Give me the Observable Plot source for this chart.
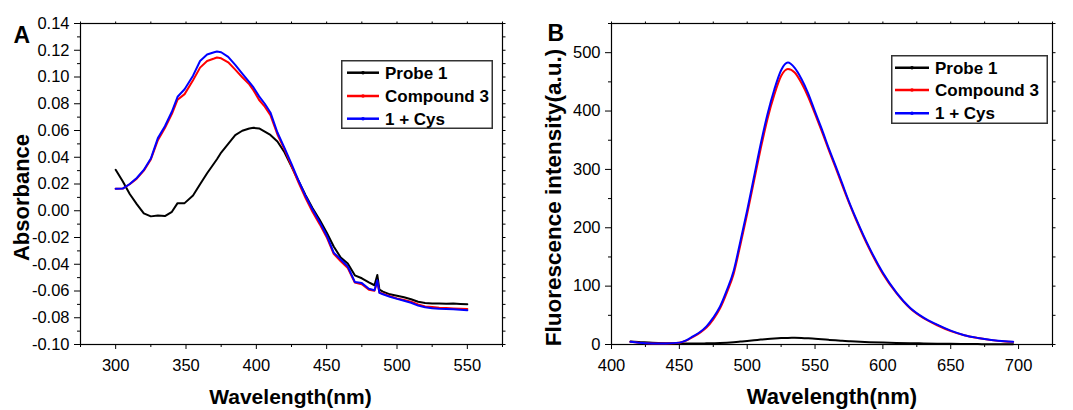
<!DOCTYPE html>
<html><head><meta charset="utf-8">
<script src="https://cdn.jsdelivr.net/npm/d3@7"></script>
<script src="https://cdn.jsdelivr.net/npm/@observablehq/plot@0.6"></script>
<style>
body{margin:0;background:#fff;}
#wrap{position:relative;width:1073px;height:410px;overflow:hidden;font-family:"Liberation Sans",Arial,sans-serif;background:#fff;}
.panel{position:absolute;top:0;}
.legend{position:absolute;}
</style></head><body><div id="wrap"></div>
<script>
// ---------- Series names / colours ----------
const seriesNames = ["Probe 1", "Compound 3", "1 + Cys"];
const seriesColors = ["#000000", "#ff0000", "#0000ff"];

// ---------- Panel A: absorbance ----------
const absWavelength = [300,305,310,315,320,325,330,335,340,344,349,355,360,365,370,372,375,380,385,390,395,398,402,406,410,415,420,425,430,435,440,445,450,455,460,465,470,475,480,484,486,487.5,490,495,500,505,510,515,520,525,530,535,540,545,550];
const absProbe1 = [0.0306,0.0220,0.0125,0.0050,-0.0020,-0.0042,-0.0035,-0.0040,-0.0008,0.0057,0.0057,0.0114,0.0198,0.0280,0.0355,0.0385,0.0435,0.0500,0.0565,0.0598,0.0615,0.0620,0.0615,0.0592,0.0567,0.0518,0.0437,0.0330,0.0222,0.0117,0.0019,-0.0068,-0.0163,-0.0267,-0.0350,-0.0394,-0.0483,-0.0505,-0.0535,-0.0557,-0.0480,-0.0590,-0.0605,-0.0625,-0.0635,-0.0647,-0.0662,-0.0680,-0.0690,-0.0694,-0.0693,-0.0695,-0.0694,-0.0697,-0.0699];
const absCompound3 = [0.0164,0.0166,0.0198,0.0240,0.0300,0.0383,0.0528,0.0618,0.0725,0.0830,0.0872,0.0975,0.1070,0.1120,0.1138,0.1146,0.1140,0.1110,0.1055,0.0998,0.0945,0.0900,0.0828,0.0778,0.0715,0.0570,0.0460,0.0335,0.0210,0.0095,-0.0010,-0.0100,-0.0198,-0.0322,-0.0378,-0.0428,-0.0536,-0.0550,-0.0590,-0.0598,-0.0530,-0.0612,-0.0620,-0.0638,-0.0655,-0.0668,-0.0680,-0.0700,-0.0715,-0.0720,-0.0725,-0.0728,-0.0730,-0.0732,-0.0735];
const absCys = [0.0164,0.0166,0.0200,0.0245,0.0305,0.0390,0.0543,0.0632,0.0742,0.0852,0.0908,0.1010,0.1120,0.1168,0.1185,0.1191,0.1185,0.1150,0.1090,0.1025,0.0962,0.0922,0.0855,0.0800,0.0735,0.0585,0.0470,0.0350,0.0226,0.0110,0.0008,-0.0085,-0.0185,-0.0313,-0.0365,-0.0417,-0.0532,-0.0541,-0.0583,-0.0594,-0.0520,-0.0614,-0.0624,-0.0643,-0.0659,-0.0673,-0.0688,-0.0709,-0.0722,-0.0729,-0.0733,-0.0734,-0.0737,-0.0740,-0.0744];
const absXTicks = [300,350,400,450,500,550];
const absXMinorTicks = [275,325,375,425,475,525,575];
const absYTicks = [0.14,0.12,0.10,0.08,0.06,0.04,0.02,0.00,-0.02,-0.04,-0.06,-0.08,-0.10];
const absYMinorTicks = [0.13,0.11,0.09,0.07,0.05,0.03,0.01,-0.01,-0.03,-0.05,-0.07,-0.09];

// ---------- Panel B: fluorescence ----------
const flWavelength = [414,420,430,440,450,455,460,465,470,475,480,485,490,495,500,505,510,515,520,525,530,535,540,545,550,555,560,565,570,575,580,590,600,610,620,630,640,650,660,670,680,690,696];
const flProbe1 = [5,4.3,3,2.3,2,1.8,1.8,1.8,2,2.2,2.6,3.2,4,5,6,7.2,8.5,9.6,10.4,11,11.3,11.4,11.2,10.6,9.8,9,8,7.1,6.3,5.6,5,4,3.3,2.7,2.2,1.8,1.4,1.1,0.9,0.7,0.5,0.4,0.3];
const flCompound3 = [4.6,3.0,1.7,1.8,3.0,6.5,13,20,29,43,62,89,121,171,224,280,336,387,428,460,472,466,448,424,395,365,334,304,273,243,215,164,121,88,62,45,33,23,16,11,7.5,5.3,4.5];
const flCys = [4.6,3.0,1.7,1.8,3.2,7,14,21,31,46,65,93,126,177,230,287,344,395,437,470,483,474,455,430,399,369,337,307,276,245,217,166,123,89,63,46,34,23.7,16,11.3,7.8,5.5,4.7];
const flXTicks = [400,450,500,550,600,650,700];
const flXMinorTicks = [425,475,525,575,625,675,725];
const flYTicks = [0,100,200,300,400,500];
const flYMinorTicks = [50,150,250,350,450,550];

// ---------- Build helpers ----------
const toRows = (xs, ys) => xs.map((x, i) => ({x, y: ys[i]}));
const absSeries = [absProbe1, absCompound3, absCys].map(v => toRows(absWavelength, v));
const flSeries = [flProbe1, flCompound3, flCys].map(v => toRows(flWavelength, v));
const blank = () => "";

function frameAxes(xT, xM, yT, yM, yFmt) {
  return [
    Plot.axisX(xT, {anchor: "bottom", tickSize: 5, tickPadding: 10, tickFormat: d => String(d), label: null}),
    Plot.axisX(xM, {anchor: "bottom", tickSize: 3, tickFormat: blank, label: null}),
    Plot.axisX(xT.concat(xM), {anchor: "top", tickSize: 2.5, tickFormat: blank, label: null}),
    Plot.axisY(yT, {anchor: "left", tickSize: 6, tickPadding: 5, tickFormat: yFmt, label: null}),
    Plot.axisY(yM, {anchor: "left", tickSize: 3, tickFormat: blank, label: null}),
    Plot.axisY(yT.concat(yM), {anchor: "right", tickSize: 2.5, tickFormat: blank, label: null}),
    Plot.frame({stroke: "#000", strokeWidth: 1.2})
  ];
}

const commonStyle = {fontFamily: "'Liberation Sans', Arial, sans-serif", fontSize: "16.5px", color: "#000", background: "transparent", overflow: "visible"};

const plotA = Plot.plot({
  width: 540, height: 410,
  marginLeft: 80, marginRight: 38, marginTop: 23, marginBottom: 66,
  x: {domain: [275, 575], axis: null},
  y: {domain: [-0.10, 0.14], axis: null},
  style: commonStyle,
  marks: [
    ...frameAxes(absXTicks, absXMinorTicks, absYTicks, absYMinorTicks, d => d.toFixed(2)),
    ...absSeries.map((rows, i) => Plot.line(rows, {x: "x", y: "y", stroke: seriesColors[i], strokeWidth: 2})),
    Plot.text(["Absorbance"], {frameAnchor: "left", text: d => d, rotate: -90, dx: -59, dy: 13.5, fontSize: 22, fontWeight: "bold", textAnchor: "middle", lineAnchor: "middle"}),
    Plot.text(["Wavelength(nm)"], {frameAnchor: "bottom", text: d => d, dy: 59, dx: -1, fontSize: 21, fontWeight: "bold", textAnchor: "middle", lineAnchor: "bottom"}),
    Plot.text(["A"], {frameAnchor: "top-left", text: d => d, dx: -67, dy: 19, fontSize: 23, fontWeight: "bold", textAnchor: "start", lineAnchor: "bottom"})
  ]
});

const plotB = Plot.plot({
  width: 533, height: 410,
  marginLeft: 71, marginRight: 21, marginTop: 23, marginBottom: 66,
  x: {domain: [400, 725], axis: null},
  y: {domain: [0, 550], axis: null},
  style: commonStyle,
  marks: [
    ...frameAxes(flXTicks, flXMinorTicks, flYTicks, flYMinorTicks, d => String(d)),
    ...flSeries.map((rows, i) => Plot.line(rows, {x: "x", y: "y", stroke: seriesColors[i], strokeWidth: 2, curve: "monotone-x"})),
    Plot.text(["Fluorescence intensity(a.u.)"], {frameAnchor: "left", text: d => d, rotate: -90, dx: -58, dy: 13.5, fontSize: 22.5, fontWeight: "bold", textAnchor: "middle", lineAnchor: "middle"}),
    Plot.text(["Wavelength(nm)"], {frameAnchor: "bottom", text: d => d, dy: 59, fontSize: 22, fontWeight: "bold", textAnchor: "middle", lineAnchor: "bottom"}),
    Plot.text(["B"], {frameAnchor: "top-left", text: d => d, dx: -64, dy: 17, fontSize: 23, fontWeight: "bold", textAnchor: "start", lineAnchor: "bottom"})
  ]
});

const wrap = document.getElementById("wrap");
function place(node, left) {
  const d = document.createElement("div");
  d.className = "panel";
  d.style.left = left + "px";
  d.appendChild(node);
  wrap.appendChild(d);
}
place(plotA, 0);
place(plotB, 540);

// Legend boxes (layout in page pixels)
function legend(left, top, w, h, lineX0, lineX1, textX, rowYs) {
  const svg = d3.select(wrap).append("svg")
    .attr("class", "legend")
    .style("left", left + "px").style("top", top + "px")
    .attr("width", w + 2).attr("height", h + 2);
  svg.append("rect").attr("x", 0.75).attr("y", 0.75).attr("width", w - 1.5).attr("height", h - 1.5)
    .attr("fill", "#fff").attr("stroke", "#333").attr("stroke-width", 1.5);
  seriesNames.forEach((name, i) => {
    const y = rowYs[i];
    svg.append("line").attr("x1", lineX0).attr("x2", lineX1).attr("y1", y).attr("y2", y)
      .attr("stroke", seriesColors[i]).attr("stroke-width", 2.5);
    svg.append("circle").attr("cx", (lineX0 + lineX1) / 2).attr("cy", y).attr("r", 1.8).attr("fill", seriesColors[i]);
    svg.append("text").attr("x", textX).attr("y", y).attr("dy", "0.35em")
      .attr("font-family", "'Liberation Sans', Arial, sans-serif")
      .attr("font-size", 17).attr("font-weight", "bold").attr("fill", "#000").text(name);
  });
}
legend(341, 60, 152, 69, 6, 38, 44, [12.7, 36, 58.7]);
legend(891, 55, 157, 69, 4, 38, 44, [12.7, 35, 58.3]);
</script></body></html>
